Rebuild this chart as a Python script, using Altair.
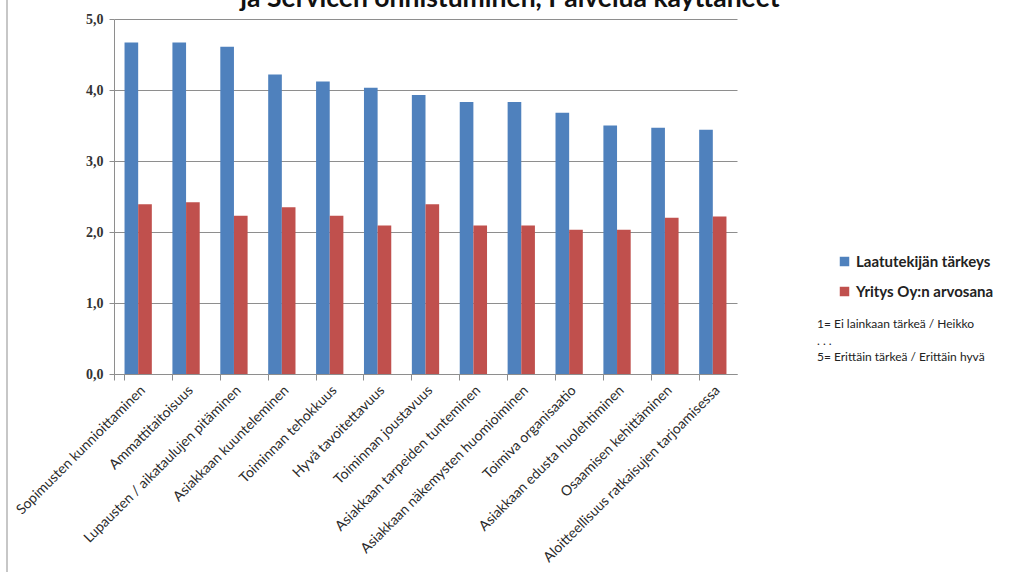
import altair as alt
import pandas as pd

# Survey results: importance of each quality factor vs. the company's grade
CATEGORIES = [
    "Sopimusten kunnioittaminen",
    "Ammattitaitoisuus",
    "Lupausten / aikataulujen pitäminen",
    "Asiakkaan kuunteleminen",
    "Toiminnan tehokkuus",
    "Hyvä tavoitettavuus",
    "Toiminnan joustavuus",
    "Asiakkaan tarpeiden tunteminen",
    "Asiakkaan näkemysten huomioiminen",
    "Toimiva organisaatio",
    "Asiakkaan edusta huolehtiminen",
    "Osaamisen kehittäminen",
    "Aloitteellisuus ratkaisujen tarjoamisessa",
]
IMPORTANCE = [4.67, 4.67, 4.61, 4.22, 4.12, 4.03, 3.93, 3.83, 3.83, 3.68, 3.50, 3.47, 3.44]
GRADE = [2.39, 2.42, 2.23, 2.35, 2.23, 2.09, 2.39, 2.09, 2.09, 2.03, 2.03, 2.20, 2.22]
SERIES = ["Laatutekijän tärkeys", "Yritys Oy:n arvosana"]
COLORS = ["#4F81BD", "#C0504D"]
Y_TICKS = [0, 1, 2, 3, 4, 5]
NOTES = ["1= Ei lainkaan tärkeä / Heikko", ". . .", "5= Erittäin tärkeä / Erittäin hyvä"]
TITLE = "ja Servicen onnistuminen, Palvelua käyttäneet"

rows = []
for cat, imp, grd in zip(CATEGORIES, IMPORTANCE, GRADE):
    rows.append({"tekija": cat, "sarja": SERIES[0], "arvo": imp})
    rows.append({"tekija": cat, "sarja": SERIES[1], "arvo": grd})
df = pd.DataFrame(rows)

GRAY = "#8E8E8E"
LABEL_FONT = "Lato"

x_scale = alt.Scale(paddingInner=0.43, paddingOuter=0.22)

bars = alt.Chart(df).mark_bar().encode(
    x=alt.X(
        "tekija:N",
        sort=CATEGORIES,
        scale=x_scale,
        axis=alt.Axis(
            orient="bottom",
            title=None,
            labelAngle=-45,
            labelFont=LABEL_FONT,
            labelFontSize=14,
            labelColor="#2A2A2A",
            labelPadding=9,
            labelLimit=400,
            ticks=False,
            domain=False,
            grid=False,
        ),
    ),
    xOffset=alt.XOffset("sarja:N", sort=SERIES),
    y=alt.Y(
        "arvo:Q",
        scale=alt.Scale(domain=[0, 5]),
        axis=alt.Axis(
            orient="left",
            values=Y_TICKS,
            title=None,
            labelExpr="replace(format(datum.value, '.1f'), '.', ',')",
            labelFont="Liberation Serif",
            labelFontWeight="bold",
            labelFontSize=14,
            labelColor="#333333",
            labelPadding=6,
            tickSize=5,
            tickColor=GRAY,
            domainColor=GRAY,
            grid=True,
            gridColor=GRAY,
            gridWidth=1,
        ),
    ),
    color=alt.Color(
        "sarja:N",
        sort=SERIES,
        scale=alt.Scale(domain=SERIES, range=COLORS),
        legend=alt.Legend(
            title=None,
            orient="none",
            legendX=723,
            legendY=235,
            symbolType="square",
            symbolSize=90,
            symbolStrokeWidth=0,
            labelFont=LABEL_FONT,
            labelFontSize=15,
            labelFontWeight="bold",
            labelColor="#222222",
            labelOffset=4,
            rowPadding=14,
        ),
    ),
)

# Category separators on the x axis, between the groups
separators = alt.Chart(df).mark_bar(opacity=0).encode(
    x=alt.X(
        "tekija:N",
        sort=CATEGORIES,
        scale=x_scale,
        axis=alt.Axis(
            orient="bottom",
            title=None,
            labels=False,
            bandPosition=0,
            tickExtra=True,
            grid=False,
            tickSize=6,
            tickColor=GRAY,
            domainColor=GRAY,
        ),
    ),
)

notes = alt.Chart(pd.DataFrame({"txt": ["\n".join(NOTES)]})).mark_text(
    align="left",
    baseline="top",
    lineBreak="\n",
    font=LABEL_FONT,
    fontSize=12,
    lineHeight=16.5,
    color="#222222",
).encode(text="txt:N", x=alt.value(703), y=alt.value(300))

heading = alt.Chart(pd.DataFrame({"t": [TITLE]})).mark_text(
    align="center",
    baseline="alphabetic",
    font=LABEL_FONT,
    fontSize=26.5,
    fontWeight="bold",
    color="#111111",
).encode(text="t:N", x=alt.value(396), y=alt.value(-12))

frame = alt.Chart(pd.DataFrame({"k": [0]})).mark_rule(color="#B5B5B5", strokeWidth=1.5).encode(
    x=alt.value(-107), y=alt.value(-19), y2=alt.value(553)
)

chart = (
    alt.layer(bars, separators, notes, heading, frame)
    .resolve_axis(x="independent")
    .properties(
        width=623,
        height=355,
        background="white",
        autosize=alt.AutoSizeParams(type="none"),
        padding={"left": 114, "top": 19, "right": 272, "bottom": 198},
    )
    .configure_view(stroke="transparent", strokeWidth=0)
)

chart.save("out.html", embed_options={"renderer": "svg", "actions": False})
